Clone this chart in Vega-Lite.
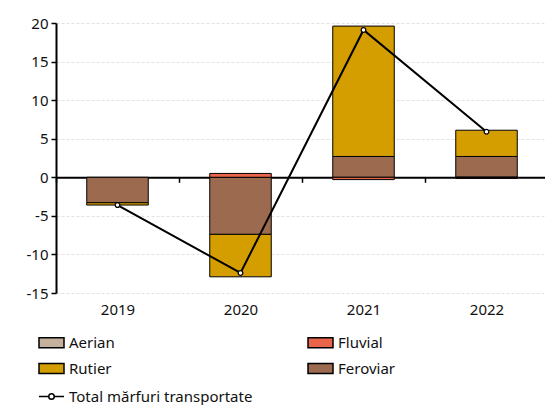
{
  "$schema": "https://vega.github.io/schema/vega-lite/v6.json",
  "width": 492,
  "height": 270,
  "autosize": {"type": "none"},
  "padding": {"left": 56, "top": 23, "right": 0, "bottom": 112},
  "config": {
    "font": "Noto Sans",
    "view": {"stroke": null},
    "axis": {"labelFont": "Noto Sans", "labelColor": "#111", "labelOverlap": false},
    "legend": {"labelFont": "Noto Sans"}
  },
  "datasets": {
    "parts": [
      {"year": "2019", "type": "Feroviar", "value": -3.3},
      {"year": "2019", "type": "Rutier", "value": -0.3},
      {"year": "2020", "type": "Feroviar", "value": -7.4},
      {"year": "2020", "type": "Rutier", "value": -5.5},
      {"year": "2020", "type": "Fluvial", "value": 0.5},
      {"year": "2021", "type": "Feroviar", "value": 2.7},
      {"year": "2021", "type": "Rutier", "value": 16.9},
      {"year": "2021", "type": "Fluvial", "value": -0.3},
      {"year": "2022", "type": "Feroviar", "value": 2.7},
      {"year": "2022", "type": "Rutier", "value": 3.4},
      {"year": "2022", "type": "Fluvial", "value": -0.15},
      {"year": "2022", "type": "Aerian", "value": 0}
    ],
    "total": [
      {"year": "2019", "serie": "Total mărfuri transportate", "total": -3.6},
      {"year": "2020", "serie": "Total mărfuri transportate", "total": -12.4},
      {"year": "2021", "serie": "Total mărfuri transportate", "total": 19.1},
      {"year": "2022", "serie": "Total mărfuri transportate", "total": 5.9}
    ]
  },
  "resolve": {"axis": {"x": "independent", "y": "independent"}, "scale": {"x": "shared", "y": "shared"}},
  "layer": [
    {
      "data": {"name": "parts"},
      "mark": {"type": "bar", "width": {"band": 0.5}, "stroke": "black", "strokeWidth": 1},
      "encoding": {
        "x": {
          "field": "year", "type": "nominal", "title": null,
          "scale": {"type": "band", "paddingInner": 0, "paddingOuter": 0},
          "axis": {
            "orient": "bottom", "offset": -115.7, "tickBand": "extent",
            "domainColor": "black", "domainWidth": 2, "tickColor": "black", "tickWidth": 1.5, "tickSize": 5,
            "labelAngle": 0, "labelFontSize": 15, "labelPadding": 120, "labelColor": "#111"
          }
        },
        "y": {
          "field": "value", "type": "quantitative", "stack": "zero", "title": null,
          "scale": {"domain": [-15, 20], "nice": false, "zero": false},
          "axis": {
            "orient": "left",
            "values": [-15, -10, -5, 0, 5, 10, 15, 20],
            "labelExpr": "'' + datum.value",
            "labelOverlap": false,
            "domainColor": "black", "domainWidth": 2, "tickColor": "black", "tickWidth": 1.5, "tickSize": 5,
            "labelFontSize": 15, "labelPadding": 3,
            "grid": true, "gridColor": "#e2e2e2", "gridDash": [3, 2], "gridWidth": 1
          }
        },
        "fill": {
          "field": "type", "type": "nominal",
          "scale": {
            "domain": ["Aerian", "Rutier", "Fluvial", "Feroviar"],
            "range": ["#c4b09c", "#d49e00", "#e8644a", "#9b6a4f"]
          },
          "legend": {
            "title": null, "orient": "none", "legendX": -18, "legendY": 306, "columns": 2,
            "columnPadding": 190, "rowPadding": 4, "padding": 0,
            "symbolType": "M-1,-0.4H1V0.4H-1Z", "symbolSize": 625,
            "symbolStrokeColor": "black", "symbolStrokeWidth": 1.5,
            "labelFontSize": 15, "labelOffset": 4, "labelColor": "#111", "labelLimit": 300
          }
        },
        "order": {"field": "type", "sort": "ascending"}
      }
    },
    {
      "data": {"name": "total"},
      "mark": {"type": "line", "strokeWidth": 2},
      "encoding": {
        "x": {"field": "year", "type": "nominal", "axis": null},
        "y": {"field": "total", "type": "quantitative", "axis": null},
        "stroke": {
          "field": "serie", "type": "nominal",
          "scale": {"range": ["black"]},
          "legend": {
            "title": null, "orient": "none", "legendX": -18, "legendY": 360, "padding": 0,
            "symbolType": "M-1,0H-0.22M0.22,0H1M-0.22,0A0.22,0.22 0 1,0 0.22,0A0.22,0.22 0 1,0 -0.22,0Z",
            "symbolSize": 625, "symbolFillColor": "white", "symbolStrokeColor": "black", "symbolStrokeWidth": 1.5,
            "labelFontSize": 15, "labelOffset": 4, "labelColor": "#111", "labelLimit": 400
          }
        }
      }
    },
    {
      "data": {"name": "total"},
      "mark": {"type": "point", "filled": true, "fill": "white", "stroke": "black", "strokeWidth": 1.2, "size": 22, "opacity": 1},
      "encoding": {
        "x": {"field": "year", "type": "nominal", "axis": null},
        "y": {"field": "total", "type": "quantitative", "axis": null}
      }
    }
  ]
}
